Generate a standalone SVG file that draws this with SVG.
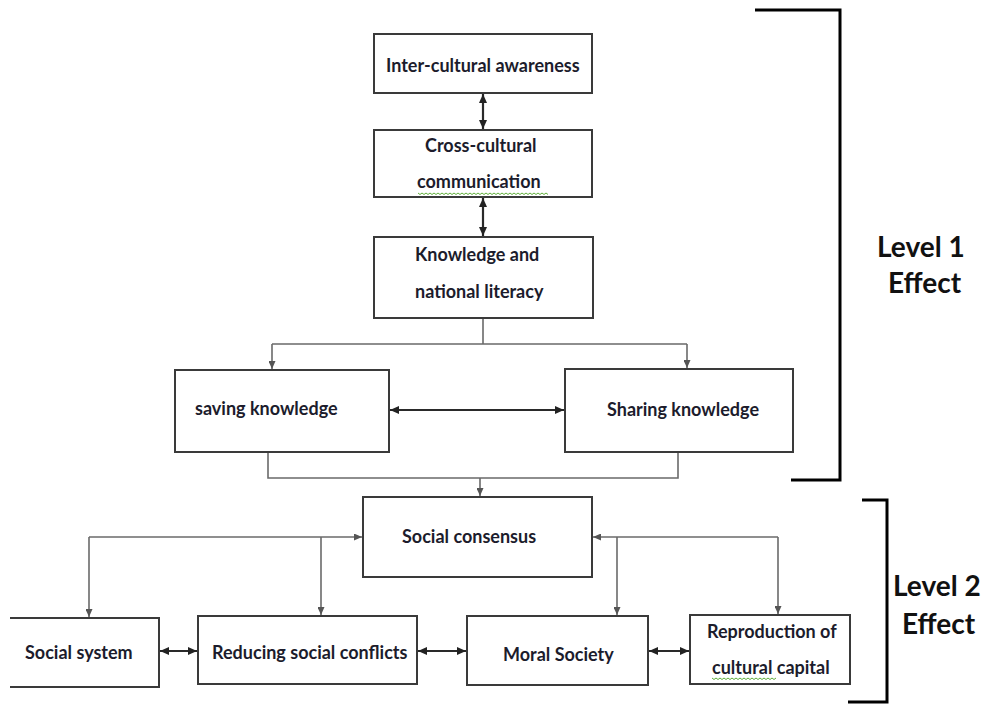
<svg xmlns="http://www.w3.org/2000/svg" width="986" height="704" viewBox="0 0 986 704">
<style>
.box{fill:#fff;stroke:#3a3a3a;stroke-width:2}
.t{font-family:Lato,"Open Sans","Liberation Sans",sans-serif;font-weight:bold;font-size:18px;fill:#1c1c2c}
.big{font-size:28px;fill:#111}
.thin{fill:none;stroke:#6a6a6a;stroke-width:1.6}
.dark{fill:none;stroke:#2a2a2a;stroke-width:2.2}
.brk{fill:none;stroke:#000;stroke-width:3}
.sq{fill:none;stroke:#5fae3a;stroke-width:1}
</style>
<defs>
<marker id="ag" markerUnits="userSpaceOnUse" markerWidth="8" markerHeight="7" refX="8" refY="3.5" orient="auto-start-reverse"><path d="M0,0 L8,3.5 L0,7 z" fill="#555"/></marker>
<marker id="ad" markerUnits="userSpaceOnUse" markerWidth="9" markerHeight="8" refX="9" refY="4" orient="auto-start-reverse"><path d="M0,0 L9,4 L0,8 z" fill="#222"/></marker>
</defs>
<rect width="986" height="704" fill="#fff"/>
<g id="connectors">
<line class="dark" x1="483" y1="94" x2="483" y2="129" marker-start="url(#ad)" marker-end="url(#ad)"/>
<line class="dark" x1="483" y1="198" x2="483" y2="236" marker-start="url(#ad)" marker-end="url(#ad)"/>
<path class="thin" d="M483,319 V344 M272,344 H687"/>
<path class="thin" d="M272,344 V369" marker-end="url(#ag)"/>
<path class="thin" d="M687,344 V368" marker-end="url(#ag)"/>
<line class="dark" x1="390" y1="410" x2="564" y2="410" marker-start="url(#ad)" marker-end="url(#ad)"/>
<path class="thin" d="M268,453 V478 H678 V453"/>
<path class="thin" d="M480,478 V496" marker-end="url(#ag)"/>
<path class="thin" d="M89,537 H362" marker-end="url(#ag)"/>
<path class="thin" d="M89,537 V617" marker-end="url(#ag)"/>
<path class="thin" d="M321,537 V615" marker-end="url(#ag)"/>
<path class="thin" d="M778,537 H593" marker-end="url(#ag)"/>
<path class="thin" d="M778,537 V614" marker-end="url(#ag)"/>
<path class="thin" d="M617,537 V615" marker-end="url(#ag)"/>
<line class="dark" x1="160" y1="651" x2="197" y2="651" marker-start="url(#ad)" marker-end="url(#ad)"/>
<line class="dark" x1="418" y1="651" x2="466" y2="651" marker-start="url(#ad)" marker-end="url(#ad)"/>
<line class="dark" x1="649" y1="651" x2="689" y2="651" marker-start="url(#ad)" marker-end="url(#ad)"/>
</g>
<g id="n1"><rect class="box" x="374" y="34" width="218" height="59"/><text class="t" x="386" y="72">Inter-cultural awareness</text></g>
<g id="n2"><rect class="box" x="374" y="130" width="218" height="67"/><text class="t" x="425" y="152">Cross-cultural</text><text class="t" x="417" y="188">communication</text><path class="sq" d="M418,193 l2,1.5 l2,-1.5 l2,1.5 l2,-1.5 l2,1.5 l2,-1.5 l2,1.5 l2,-1.5 l2,1.5 l2,-1.5 l2,1.5 l2,-1.5 l2,1.5 l2,-1.5 l2,1.5 l2,-1.5 l2,1.5 l2,-1.5 l2,1.5 l2,-1.5 l2,1.5 l2,-1.5 l2,1.5 l2,-1.5 l2,1.5 l2,-1.5 l2,1.5 l2,-1.5 l2,1.5 l2,-1.5 l2,1.5 l2,-1.5 l2,1.5 l2,-1.5 l2,1.5 l2,-1.5 l2,1.5 l2,-1.5 l2,1.5 l2,-1.5 l2,1.5 l2,-1.5 l2,1.5 l2,-1.5 l2,1.5 l2,-1.5 l2,1.5 l2,-1.5 l2,1.5 l2,-1.5 l2,1.5 l2,-1.5 l2,1.5 l2,-1.5 l2,1.5 l2,-1.5 l2,1.5 l2,-1.5 l2,1.5 l2,-1.5 l2,1.5 l2,-1.5 l2,1.5 l2,-1.5 l2,1.5"/></g>
<g id="n3"><rect class="box" x="374" y="237" width="219" height="81"/><text class="t" x="415" y="261">Knowledge and</text><text class="t" x="415" y="298">national literacy</text></g>
<g id="n4"><rect class="box" x="175" y="370" width="214" height="82"/><text class="t" x="195" y="415">saving knowledge</text></g>
<g id="n5"><rect class="box" x="565" y="369" width="228" height="83"/><text class="t" x="607" y="416">Sharing knowledge</text></g>
<g id="n6"><rect class="box" x="363" y="497" width="229" height="80"/><text class="t" x="402" y="543">Social consensus</text></g>
<g id="n7"><path class="box" d="M10,618 H159 V687 H10"/><text class="t" x="25" y="659">Social system</text></g>
<g id="n8"><rect class="box" x="198" y="616" width="219" height="68"/><text class="t" x="212" y="659">Reducing social conflicts</text></g>
<g id="n9"><rect class="box" x="467" y="616" width="181" height="69"/><text class="t" x="503" y="661">Moral Society</text></g>
<g id="n10"><rect class="box" x="690" y="615" width="160" height="69"/><text class="t" x="707" y="638">Reproduction of</text><text class="t" x="712" y="674">cultural capital</text><path class="sq" d="M712,678 l2,1.5 l2,-1.5 l2,1.5 l2,-1.5 l2,1.5 l2,-1.5 l2,1.5 l2,-1.5 l2,1.5 l2,-1.5 l2,1.5 l2,-1.5 l2,1.5 l2,-1.5 l2,1.5 l2,-1.5 l2,1.5 l2,-1.5 l2,1.5 l2,-1.5 l2,1.5 l2,-1.5 l2,1.5 l2,-1.5 l2,1.5 l2,-1.5 l2,1.5 l2,-1.5 l2,1.5 l2,-1.5 l2,1.5 l2,-1.5"/></g>
<g id="level1"><path class="brk" d="M755,10 H840 V480 H791"/><text class="t big" x="877" y="257">Level 1</text><text class="t big" x="888" y="293">Effect</text></g>
<g id="level2"><path class="brk" d="M862,500 H887 V702 H848"/><text class="t big" x="893" y="596">Level 2</text><text class="t big" x="902" y="634">Effect</text></g>
</svg>
